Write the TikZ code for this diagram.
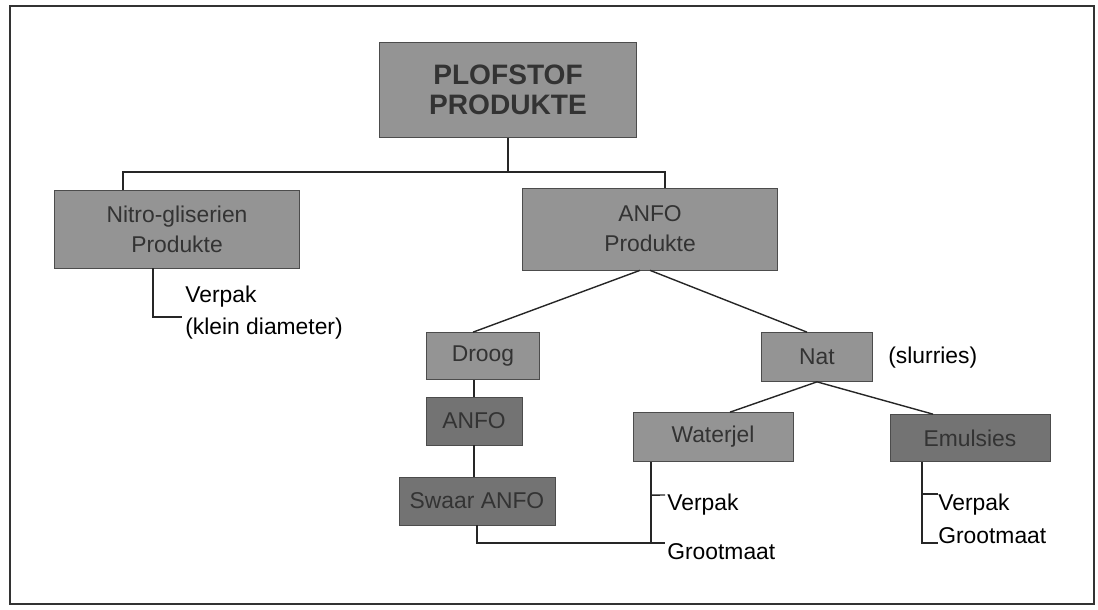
\documentclass[tikz,border=0pt]{standalone}
\usepackage{fontspec}
\setmainfont{Liberation Sans}
\usepackage{tikz}
\usetikzlibrary{positioning,calc}
\tikzset{
  prodbox/.style={draw=black!70,fill=black!42,text=black!80,
    align=center,inner sep=0pt,font=\fontsize{13}{17}\selectfont},
  darkbox/.style={prodbox,fill=black!55},
  topbox/.style={prodbox,font=\fontsize{16}{17}\selectfont\bfseries},
  leaf/.style={align=left,inner sep=0pt,anchor=base west,
    font=\fontsize{13}{18}\selectfont},
  link/.style={line width=.8pt,black!85}
}

\begin{document}
\begin{tikzpicture}[x=0.02cm,y=-0.02cm]
\useasboundingbox (0,0) rectangle (1098,609);
\draw[line width=1pt,black!80] (10,6) rectangle (1094,604);

\node[topbox,minimum width=5.14cm,minimum height=1.9cm] (top) at (508,90)
  {PLOFSTOF\\PRODUKTE};
\node[prodbox,minimum width=4.9cm,minimum height=1.56cm] (nitro) at (177,229)
  {Nitro-gliserien\\Produkte};
\node[prodbox,minimum width=5.1cm,minimum height=1.64cm] (anfop) at (650,229)
  {ANFO\\Produkte};
\node[prodbox,minimum width=2.26cm,minimum height=.94cm] (droog) at (483,356) {Droog};
\node[darkbox,minimum width=1.92cm,minimum height=.96cm] (anfo) at (474,421) {ANFO};
\node[darkbox,minimum width=3.12cm,minimum height=.96cm] (swaar) at (477,501) {Swaar ANFO};
\node[prodbox,minimum width=2.22cm,minimum height=.98cm] (nat) at (817,357) {Nat};
\node[prodbox,minimum width=3.2cm,minimum height=.98cm] (waterjel) at (713,437) {Waterjel};
\node[darkbox,minimum width=3.2cm,minimum height=.94cm] (emulsies) at (970,438) {Emulsies};

\node[leaf,anchor=west] (slurries) at (888,358) {(slurries)};
\node[leaf] (nitroleaf) at (185,334) {Verpak\\(klein diameter)};
\node[leaf] (verpw) at (667,510) {Verpak};
\node[leaf] (grootw) at (667,559) {Grootmaat};
\node[leaf] (verpe) at (938,510) {Verpak};
\node[leaf] (groote) at (938,543) {Grootmaat};

\coordinate (jl) at (123,172);
\coordinate (jr) at (665,172);
\coordinate (nv) at (153,317);
\coordinate (wv) at (651,543);
\coordinate (ev) at (922,543);

\draw[link] (top) -- (top |- jl);
\draw[link] (nitro.north -| jl) -- (jl) -- (jr) -- (anfop.north -| jr);
\draw[link] (nitro.south -| nv) -- (nv) -- ($(nitroleaf.base west)+(-3,-17)$);
\draw[link] ($(anfop.south)+(-10,0)$) -- ($(droog.north)+(-10,0)$);
\draw[link] (anfop.south) -- ($(nat.north)+(-10,0)$);
\draw[link] (anfo.north) -- (anfo.north |- droog.south);
\draw[link] (anfo.south) -- (anfo.south |- swaar.north);
\draw[link] (nat.south) -- ($(waterjel.north)+(17,0)$);
\draw[link] (nat.south) -- ($(emulsies.north)+(-37,0)$);
\draw[link] (swaar.south) |- (wv) -- ($(grootw.base west)+(-2,-16)$);
\draw[link] (waterjel.south -| wv) -- (wv);
\draw[link] (wv |- verpw.north) ++(0,2) -- ($(verpw.base west)+(-2,-15)$);
\draw[link] (emulsies.south -| ev) -- (ev) -- (groote.base west);
\draw[link] ($(ev |- verpe.base)+(0,-16)$) -- ($(verpe.base west)+(0,-16)$);
\end{tikzpicture}
\end{document}
